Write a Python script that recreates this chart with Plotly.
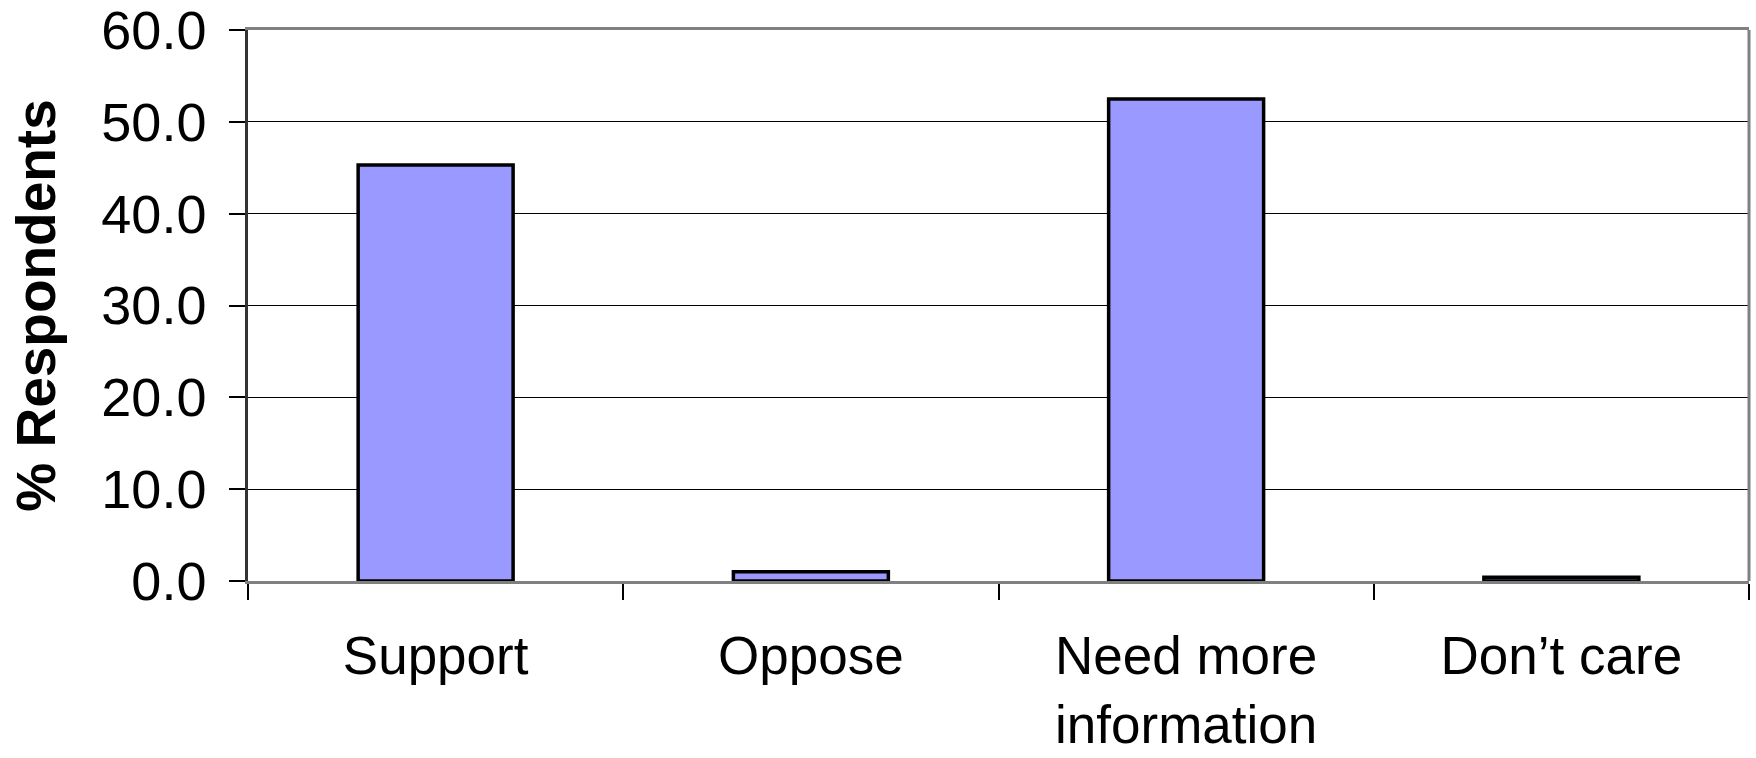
import plotly.graph_objects as go

# Survey responses (% of respondents)
categories = ["Support", "Oppose", "Need more<br>information", "Don\u2019t care"]
percent = [45.3, 1.0, 52.5, 0.4]
y_ticks = [0, 10, 20, 30, 40, 50, 60]

FONT = "Liberation Sans, Arial, sans-serif"

fig = go.Figure(
    go.Bar(
        x=categories,
        y=percent,
        marker=dict(color="#9999FF", line=dict(color="black", width=3.5)),
        hoverinfo="x+y",
    )
)

fig.update_layout(
    width=1756,
    height=758,
    margin=dict(l=248, r=7, t=30, b=177),
    plot_bgcolor="white",
    paper_bgcolor="white",
    bargap=0.587,
    showlegend=False,
    font=dict(family=FONT, color="black"),
    # right-hand frame edge of the plot area
    shapes=[
        dict(type="line", xref="paper", yref="paper", x0=1, x1=1, y0=0, y1=1,
             line=dict(color="#808080", width=3), layer="above"),
    ],
)

fig.update_xaxes(
    type="category",
    range=[-0.5, 3.5],
    tickson="boundaries",
    ticks="outside",
    ticklen=16,
    tickwidth=1.5,
    tickcolor="black",
    showline=True,
    linecolor="#808080",
    linewidth=3,
    mirror=True,
    showgrid=False,
    automargin=False,
    ticklabeloverflow="allow",
    tickfont=dict(size=53, family=FONT, color="black"),
    ticklabelstandoff=26,
)

fig.update_yaxes(
    range=[0, 60],
    tickvals=y_ticks,
    tickformat=".1f",
    ticks="outside",
    ticklen=16,
    tickwidth=1.5,
    tickcolor="black",
    showline=True,
    linecolor="#333333",
    linewidth=2.5,
    showgrid=True,
    gridcolor="black",
    gridwidth=1,
    zeroline=False,
    automargin=False,
    ticklabeloverflow="allow",
    tickfont=dict(size=54, family=FONT, color="black"),
    ticklabelstandoff=12,
    title=dict(text="<b>% Respondents</b>", font=dict(size=55, family=FONT, color="black"), standoff=29),
)

fig.write_html("out.html")
